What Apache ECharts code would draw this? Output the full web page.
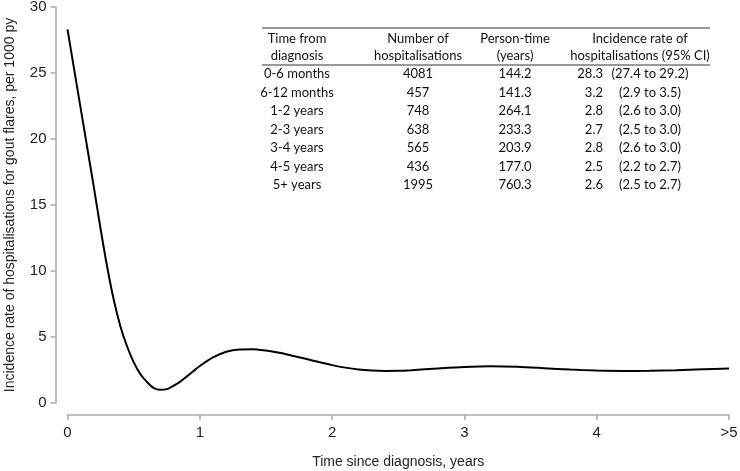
<!DOCTYPE html>
<html>
<head>
<meta charset="utf-8">
<script src="https://cdn.jsdelivr.net/npm/echarts@6/dist/echarts.min.js"></script>
<style>
html,body{margin:0;padding:0;background:#fff;}
#chart{width:740px;height:471px;}
</style>
</head>
<body>
<div id="chart"></div>
<script>
// Curve: time since diagnosis (years) vs incidence rate per 1000 py
const curveTime = [0, 0.05, 0.1, 0.15, 0.2, 0.25, 0.3, 0.35, 0.4, 0.45, 0.5, 0.55, 0.6, 0.65, 0.7, 0.75, 0.8, 0.85, 0.9, 0.95, 1.0, 1.1, 1.2, 1.3, 1.4, 1.5, 1.6, 1.7, 1.8, 1.9, 2.0, 2.1, 2.2, 2.3, 2.4, 2.5, 2.6, 2.8, 3.0, 3.2, 3.4, 3.6, 3.8, 4.0, 4.2, 4.4, 4.6, 4.8, 5.0];
const curveRate = [28.3, 25.3, 22.3, 19.3, 16.3, 13.2, 10.3, 7.8, 5.8, 4.3, 3.1, 2.2, 1.6, 1.15, 1.0, 1.05, 1.3, 1.6, 2.0, 2.4, 2.8, 3.45, 3.88, 4.06, 4.08, 3.97, 3.8, 3.58, 3.35, 3.1, 2.87, 2.68, 2.54, 2.46, 2.43, 2.44, 2.49, 2.62, 2.73, 2.78, 2.74, 2.64, 2.53, 2.46, 2.43, 2.44, 2.48, 2.55, 2.62];

// Axis ticks
const xTicks = [0, 1, 2, 3, 4, 5];
const xTickLabels = ['0', '1', '2', '3', '4', '>5'];
const yTicks = [0, 5, 10, 15, 20, 25, 30];

// Table data
const tableHeader1 = ['Time from', 'Number of', 'Person-time', 'Incidence rate of'];
const tableHeader2 = ['diagnosis', 'hospitalisations', '(years)', 'hospitalisations (95% CI)'];
const periods = ['0-6 months', '6-12 months', '1-2 years', '2-3 years', '3-4 years', '4-5 years', '5+ years'];
const hospitalisations = ['4081', '457', '748', '638', '565', '436', '1995'];
const personTime = ['144.2', '141.3', '264.1', '233.3', '203.9', '177.0', '760.3'];
const rates = ['28.3', '3.2', '2.8', '2.7', '2.8', '2.5', '2.6'];
const ciLow = ['27.4', '2.9', '2.6', '2.5', '2.6', '2.2', '2.5'];
const ciHigh = ['29.2', '3.5', '3.0', '3.0', '3.0', '2.7', '2.7'];

const chart = echarts.init(document.getElementById('chart'), null, {renderer: 'canvas'});

const axisFont = 'Liberation Sans, Arial, sans-serif';
const tableFont = 'Lato, sans-serif';
const tFontSize = 13;
const tColor = '#111';

// table layout
const colX = [297, 418, 515, 640];
const headerY = [39, 56];
const rowY0 = 74, rowStep = 18.5;
const ruleX1 = 262, ruleX2 = 710;

const graphics = [];
function txt(x, y, s, align) {
  graphics.push({
    type: 'text',
    style: {x: x, y: y, text: s, align: align || 'center', verticalAlign: 'middle',
            font: tFontSize + 'px ' + tableFont, fill: tColor}
  });
}
graphics.push({type: 'line', shape: {x1: ruleX1, y1: 28, x2: ruleX2, y2: 28}, style: {stroke: '#333', lineWidth: 1}});
graphics.push({type: 'line', shape: {x1: ruleX1, y1: 65, x2: ruleX2, y2: 65}, style: {stroke: '#333', lineWidth: 1}});
for (let c = 0; c < 4; c++) {
  txt(colX[c], headerY[0], tableHeader1[c]);
  txt(colX[c], headerY[1], tableHeader2[c]);
}
for (let r = 0; r < periods.length; r++) {
  const y = rowY0 + r * rowStep;
  txt(colX[0], y, periods[r]);
  txt(colX[1], y, hospitalisations[r]);
  txt(colX[2], y, personTime[r]);
  txt(603, y, rates[r], 'right');
  txt(650, y, '(' + ciLow[r] + ' to ' + ciHigh[r] + ')');
}

const axisLineStyle = {color: '#aaa', width: 1.5};

chart.setOption({
  animation: false,
  backgroundColor: '#fff',
  grid: {left: 67.5, right: 11, top: 7, bottom: 68, containLabel: false, outerBoundsMode: 'none'},
  xAxis: {
    type: 'value', min: 0, max: 5, interval: 1,
    offset: 12,
    name: 'Time since diagnosis, years',
    nameLocation: 'middle', nameGap: 40,
    nameTextStyle: {fontFamily: axisFont, fontSize: 14, color: '#222'},
    axisLine: {show: true, onZero: false, lineStyle: axisLineStyle},
    axisTick: {show: true, length: 5, inside: false, lineStyle: axisLineStyle},
    axisLabel: {fontFamily: axisFont, fontSize: 15, color: '#222', margin: 10,
      formatter: function (v) { const i = xTicks.indexOf(v); return i >= 0 ? xTickLabels[i] : ''; }},
    splitLine: {show: false}
  },
  yAxis: {
    type: 'value', min: yTicks[0], max: yTicks[yTicks.length - 1], interval: 5,
    offset: 12,
    name: 'Incidence rate of hospitalisations for gout flares, per 1000 py',
    nameLocation: 'middle', nameGap: 38,
    nameTextStyle: {fontFamily: axisFont, fontSize: 14, color: '#222'},
    axisLine: {show: true, onZero: false, lineStyle: axisLineStyle},
    axisTick: {show: true, length: 5, inside: false, lineStyle: axisLineStyle},
    axisLabel: {fontFamily: axisFont, fontSize: 15, color: '#222', margin: 9},
    splitLine: {show: false}
  },
  series: [{
    type: 'line',
    data: curveTime.map((t, i) => [t, curveRate[i]]),
    smooth: 0.3,
    showSymbol: false,
    lineStyle: {color: '#000', width: 2},
    clip: false
  }],
  graphic: graphics
});
</script>
</body>
</html>
